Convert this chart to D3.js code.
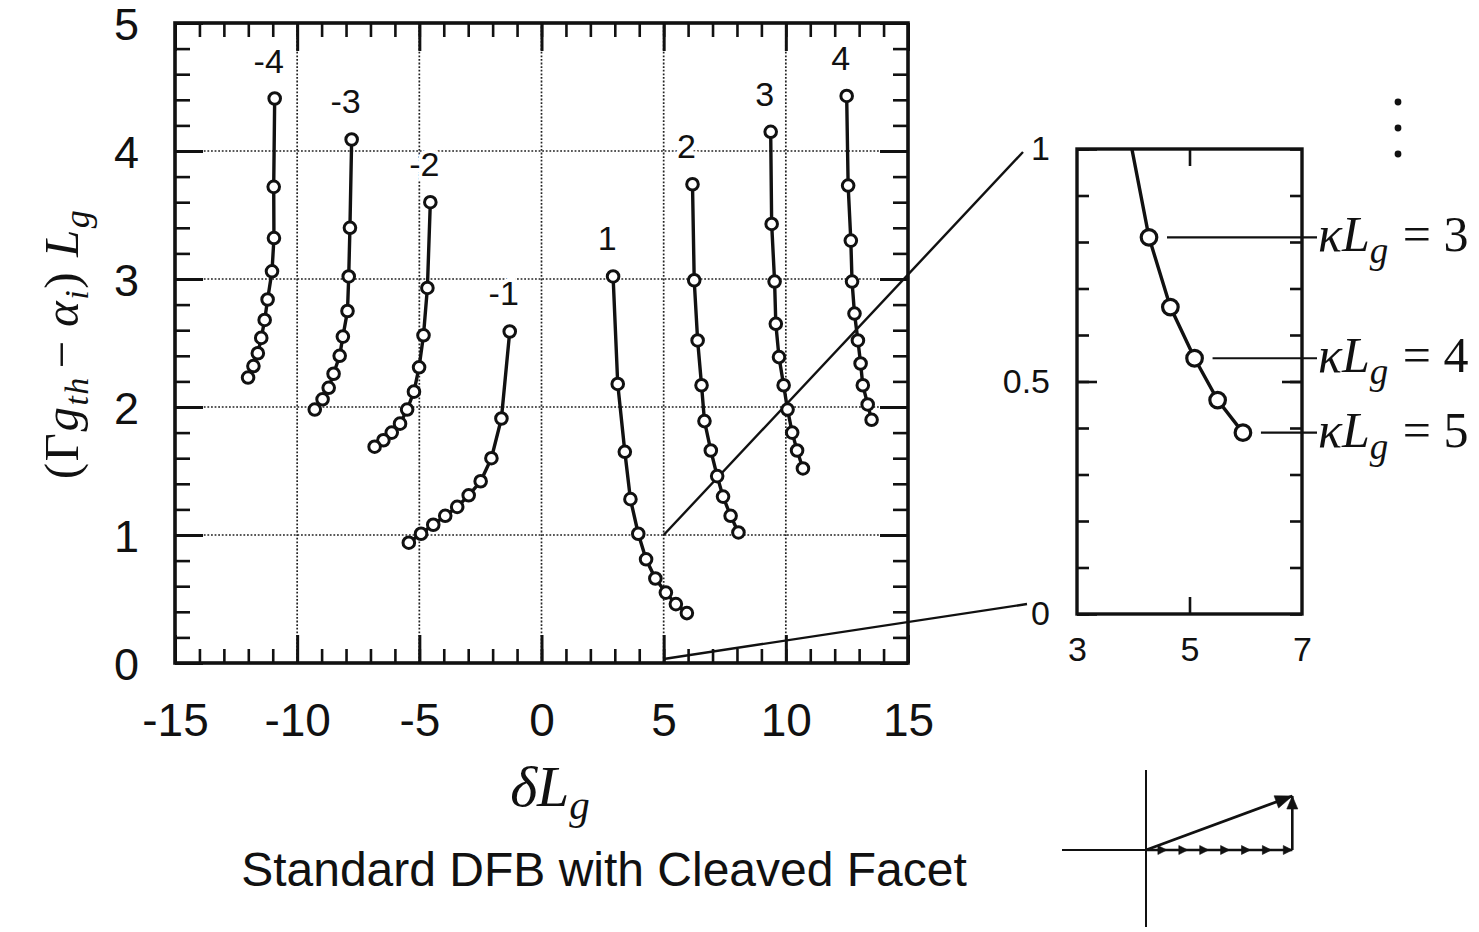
<!DOCTYPE html>
<html><head><meta charset="utf-8">
<script src="https://cdn.jsdelivr.net/npm/d3@7"></script>
<style>
  body { margin: 0; background: #fff; }
  svg { display: block; }
  .tick text { font-family: "Liberation Sans", Arial, sans-serif; fill: #111; }
</style></head>
<body>
<svg id="fig" width="1479" height="932"></svg>
<script>
// Coupling strength sweep, same for every longitudinal mode
const kappaL = [0.5, 1, 1.5, 2, 2.5, 3, 3.5, 4, 4.5, 5];
const modes = [-4, -3, -2, -1, 1, 2, 3, 4];

// Normalised detuning δLg for each mode, ordered by κLg
const dLm4 = [-10.92, -10.96, -10.95, -11.03, -11.21, -11.33, -11.47, -11.61, -11.79, -12.01];
const dLm3 = [-7.77, -7.84, -7.89, -7.94, -8.13, -8.26, -8.51, -8.71, -8.96, -9.28];
const dLm2 = [-4.55, -4.67, -4.83, -5.01, -5.22, -5.50, -5.79, -6.13, -6.47, -6.83];
const dLm1 = [-1.30, -1.64, -2.05, -2.49, -2.98, -3.45, -3.94, -4.43, -4.93, -5.43];
const dLp1 = [2.93, 3.12, 3.41, 3.64, 3.96, 4.28, 4.66, 5.09, 5.50, 5.95];
const dLp2 = [6.18, 6.25, 6.39, 6.55, 6.67, 6.93, 7.19, 7.43, 7.74, 8.06];
const dLp3 = [9.38, 9.42, 9.54, 9.59, 9.72, 9.91, 10.07, 10.26, 10.46, 10.70];
const dLp4 = [12.49, 12.55, 12.66, 12.71, 12.81, 12.95, 13.06, 13.15, 13.35, 13.51];

// Threshold gain (Γg_th − α_i)Lg for each mode, ordered by κLg
const gLm4 = [4.41, 3.72, 3.32, 3.06, 2.84, 2.68, 2.54, 2.42, 2.32, 2.23];
const gLm3 = [4.09, 3.40, 3.02, 2.75, 2.55, 2.40, 2.26, 2.15, 2.06, 1.98];
const gLm2 = [3.60, 2.93, 2.56, 2.31, 2.12, 1.98, 1.87, 1.80, 1.74, 1.69];
const gLm1 = [2.59, 1.91, 1.60, 1.42, 1.31, 1.22, 1.15, 1.08, 1.01, 0.94];
const gLp1 = [3.02, 2.18, 1.65, 1.28, 1.01, 0.81, 0.66, 0.55, 0.46, 0.39];
const gLp2 = [3.74, 2.99, 2.52, 2.17, 1.89, 1.66, 1.46, 1.30, 1.15, 1.02];
const gLp3 = [4.15, 3.43, 2.98, 2.65, 2.39, 2.17, 1.98, 1.80, 1.66, 1.52];
const gLp4 = [4.43, 3.73, 3.30, 2.98, 2.73, 2.52, 2.34, 2.17, 2.02, 1.90];

// Axis ticks
const xMajor = [-15, -10, -5, 0, 5, 10, 15];
const yMajor = [0, 1, 2, 3, 4, 5];
const xGrid = [-10, -5, 0, 5, 10];
const yGrid = [1, 2, 3, 4];
const insetX = [3, 5, 7];
const insetY = [0, 0.5, 1];
const insetLabelled = [3, 4, 5];   // κLg values called out in the close-up
const title = "Standard DFB with Cleaved Facet";

const detuning = [dLm4, dLm3, dLm2, dLm1, dLp1, dLp2, dLp3, dLp4];
const gain = [gLm4, gLm3, gLm2, gLm1, gLp1, gLp2, gLp3, gLp4];
const series = modes.map((m, i) => ({
  mode: m,
  pts: kappaL.map((k, j) => ({ k, x: detuning[i][j], y: gain[i][j] }))
}));

const svg = d3.select("#fig");
const INK = "#111";
const M = { l: 175, r: 908, t: 23, b: 663 };
const x = d3.scaleLinear().domain([-15, 15]).range([M.l, M.r]);
const y = d3.scaleLinear().domain([0, 5]).range([M.b, M.t]);

// ---------- main panel ----------
const grid = svg.append("g").attr("stroke", "#222").attr("stroke-width", 1.7).attr("stroke-dasharray", "1.8,1.8");
grid.selectAll("line.v").data(xGrid).join("line").attr("class", "v")
  .attr("x1", d => x(d)).attr("x2", d => x(d)).attr("y1", M.t).attr("y2", M.b);
grid.selectAll("line.h").data(yGrid).join("line").attr("class", "h")
  .attr("x1", M.l).attr("x2", M.r).attr("y1", d => y(d)).attr("y2", d => y(d));

function styleAxis(g, w) {
  g.select(".domain").remove();
  g.selectAll(".tick line").attr("stroke", INK).attr("stroke-width", w);
}
const minorX = d3.range(-15, 15.01, 1);
const minorY = d3.range(0, 5.01, 0.2);
const fmt = d => String(d);

svg.append("g").attr("transform", `translate(0,${M.b})`)
  .call(d3.axisBottom(x).tickValues(minorX).tickSize(-14).tickFormat(""))
  .call(g => styleAxis(g, 2.6));
svg.append("g").attr("transform", `translate(0,${M.b})`)
  .call(d3.axisBottom(x).tickValues(xMajor).tickSize(-28).tickPadding(40).tickFormat(fmt))
  .call(g => styleAxis(g, 3))
  .call(g => g.selectAll("text").attr("font-size", 46));
svg.append("g").attr("transform", `translate(0,${M.t})`)
  .call(d3.axisTop(x).tickValues(minorX).tickSize(-14).tickFormat(""))
  .call(g => styleAxis(g, 2.6));
svg.append("g").attr("transform", `translate(0,${M.t})`)
  .call(d3.axisTop(x).tickValues(xMajor).tickSize(-28).tickFormat(""))
  .call(g => styleAxis(g, 3));
svg.append("g").attr("transform", `translate(${M.l},0)`)
  .call(d3.axisLeft(y).tickValues(minorY).tickSize(-15).tickFormat(""))
  .call(g => styleAxis(g, 2.6));
svg.append("g").attr("transform", `translate(${M.l},0)`)
  .call(d3.axisLeft(y).tickValues(yMajor).tickSize(-28).tickPadding(36).tickFormat(fmt))
  .call(g => styleAxis(g, 3))
  .call(g => g.selectAll("text").attr("font-size", 45).attr("dy", "0.36em"));
svg.append("g").attr("transform", `translate(${M.r},0)`)
  .call(d3.axisRight(y).tickValues(minorY).tickSize(-15).tickFormat(""))
  .call(g => styleAxis(g, 2.6));
svg.append("g").attr("transform", `translate(${M.r},0)`)
  .call(d3.axisRight(y).tickValues(yMajor).tickSize(-28).tickFormat(""))
  .call(g => styleAxis(g, 3));

svg.append("rect").attr("x", M.l).attr("y", M.t).attr("width", M.r - M.l).attr("height", M.b - M.t)
  .attr("fill", "none").attr("stroke", INK).attr("stroke-width", 3.6);

// zoom connectors from the main panel to the close-up
const I = { l: 1077, r: 1302, t: 149, b: 614 };
const xi = d3.scaleLinear().domain([3, 7]).range([I.l, I.r]);
const yi = d3.scaleLinear().domain([0, 1]).range([I.b, I.t]);
const conn = [
  [[x(5), y(1)], [I.l - 54, yi(1) + 3]],
  [[x(5), y(0) - 4], [I.l - 50, yi(0) - 10]]
];
svg.append("g").selectAll("line").data(conn).join("line")
  .attr("x1", d => d[0][0]).attr("y1", d => d[0][1])
  .attr("x2", d => d[1][0]).attr("y2", d => d[1][1])
  .attr("stroke", INK).attr("stroke-width", 2.4);

const line = d3.line().x(d => x(d.x)).y(d => y(d.y));
const sg = svg.append("g").selectAll("g").data(series).join("g");
sg.append("path").attr("d", d => line(d.pts)).attr("fill", "none")
  .attr("stroke", INK).attr("stroke-width", 3.4);
sg.selectAll("circle").data(d => d.pts).join("circle")
  .attr("cx", d => x(d.x)).attr("cy", d => y(d.y)).attr("r", 5.8)
  .attr("fill", "#fff").attr("stroke", INK).attr("stroke-width", 3);

// mode numbers above each branch
svg.append("g").selectAll("text").data(series).join("text")
  .attr("x", d => x(d.pts[0].x) - 6).attr("y", d => y(d.pts[0].y) - 26)
  .attr("text-anchor", "middle")
  .attr("font-family", "Liberation Sans, Arial, sans-serif").attr("font-size", 34)
  .attr("fill", INK).attr("stroke", "#fff").attr("stroke-width", 8)
  .style("paint-order", "stroke")
  .text(d => String(d.mode));

// axis titles
const serif = "Liberation Serif, Times New Roman, serif";
const yt = svg.append("text").attr("transform", "translate(78,344) rotate(-90)")
  .attr("text-anchor", "middle").attr("font-family", serif).attr("font-size", 49)
  .attr("letter-spacing", 1.5).attr("fill", INK);
yt.append("tspan").text("(Γ");
yt.append("tspan").attr("font-style", "italic").text("g");
yt.append("tspan").attr("font-style", "italic").attr("font-size", 34).attr("dy", 10).text("th");
yt.append("tspan").attr("dy", -10).attr("dx", 8).text("−");
yt.append("tspan").attr("dx", 12).attr("font-style", "italic").text("α");
yt.append("tspan").attr("font-style", "italic").attr("font-size", 34).attr("dy", 10).text("i");
yt.append("tspan").attr("dy", -10).text(")");
yt.append("tspan").attr("dx", 14).attr("font-style", "italic").text("L");
yt.append("tspan").attr("font-style", "italic").attr("font-size", 36).attr("dy", 11).text("g");

const xt = svg.append("text").attr("x", 550).attr("y", 806).attr("text-anchor", "middle")
  .attr("font-family", serif).attr("font-size", 58).attr("font-style", "italic").attr("fill", INK);
xt.append("tspan").text("δL");
xt.append("tspan").attr("font-size", 41).attr("dy", 13).text("g");

svg.append("text").attr("x", 604).attr("y", 886).attr("text-anchor", "middle")
  .attr("font-family", "Liberation Sans, Arial, sans-serif").attr("font-size", 48).attr("fill", INK)
  .text(title);

// ---------- close-up of mode 1 ----------
svg.append("clipPath").attr("id", "insetClip").append("rect")
  .attr("x", I.l).attr("y", I.t).attr("width", I.r - I.l).attr("height", I.b - I.t);

const minorI = d3.range(0, 1.001, 0.1);
svg.append("g").attr("transform", `translate(${I.l},0)`)
  .call(d3.axisLeft(yi).tickValues(minorI).tickSize(-12).tickFormat(""))
  .call(g => styleAxis(g, 2.6));
svg.append("g").attr("transform", `translate(${I.l},0)`)
  .call(d3.axisLeft(yi).tickValues(insetY).tickSize(-20).tickPadding(27).tickFormat(fmt))
  .call(g => styleAxis(g, 2.6))
  .call(g => g.selectAll("text").attr("font-size", 34));
svg.append("g").attr("transform", `translate(${I.r},0)`)
  .call(d3.axisRight(yi).tickValues(minorI).tickSize(-12).tickFormat(""))
  .call(g => styleAxis(g, 2.6));
svg.append("g").attr("transform", `translate(${I.r},0)`)
  .call(d3.axisRight(yi).tickValues([0.5]).tickSize(-20).tickFormat(""))
  .call(g => styleAxis(g, 2.6));
svg.append("g").attr("transform", `translate(0,${I.b})`)
  .call(d3.axisBottom(xi).tickValues([5]).tickSize(-17).tickFormat(""))
  .call(g => styleAxis(g, 2.6));
svg.append("g").attr("transform", `translate(0,${I.b})`)
  .call(d3.axisBottom(xi).tickValues(insetX).tickSize(0).tickPadding(23).tickFormat(fmt))
  .call(g => styleAxis(g, 0))
  .call(g => g.selectAll("text").attr("font-size", 34));
svg.append("g").attr("transform", `translate(0,${I.t})`)
  .call(d3.axisTop(xi).tickValues([5]).tickSize(-17).tickFormat(""))
  .call(g => styleAxis(g, 2.6));

const mode1 = series.find(s => s.mode === 1).pts;
const lineI = d3.line().x(d => xi(d.x)).y(d => yi(d.y));
const ig = svg.append("g").attr("clip-path", "url(#insetClip)");
ig.append("path").attr("d", lineI(mode1)).attr("fill", "none").attr("stroke", INK).attr("stroke-width", 3.4);
ig.selectAll("circle").data(mode1.filter(d => d.y <= 1)).join("circle")
  .attr("cx", d => xi(d.x)).attr("cy", d => yi(d.y)).attr("r", 7.8)
  .attr("fill", "#fff").attr("stroke", INK).attr("stroke-width", 3.2);

svg.append("rect").attr("x", I.l).attr("y", I.t).attr("width", I.r - I.l).attr("height", I.b - I.t)
  .attr("fill", "none").attr("stroke", INK).attr("stroke-width", 3.4);

// κLg call-outs
const callouts = mode1.filter(d => insetLabelled.includes(d.k));
const cg = svg.append("g").selectAll("g").data(callouts).join("g");
cg.append("line").attr("x1", d => xi(d.x) + 18).attr("x2", 1317)
  .attr("y1", d => yi(d.y)).attr("y2", d => yi(d.y))
  .attr("stroke", INK).attr("stroke-width", 2.2);
const ct = cg.append("text").attr("x", 1318).attr("y", d => yi(d.y) + 14)
  .attr("font-family", serif).attr("font-size", 50).attr("fill", INK);
ct.append("tspan").attr("font-style", "italic").text("κL");
ct.append("tspan").attr("font-style", "italic").attr("font-size", 37).attr("dy", 12).text("g");
ct.append("tspan").attr("dy", -12).attr("dx", 2).text(d => " = " + d.k);

// continuation dots above the call-outs
svg.append("g").selectAll("circle").data([0, 1, 2]).join("circle")
  .attr("cx", 1398).attr("cy", d => 102 + d * 26).attr("r", 3.4).attr("fill", INK);

// ---------- phasor sketch ----------
const P = { x: 1146, y: 850 };
const nSteps = 7, step = 20.9, rise = 54;
const ph = svg.append("g").attr("stroke", INK).attr("fill", INK);
ph.append("line").attr("x1", 1062).attr("x2", P.x).attr("y1", P.y).attr("y2", P.y).attr("stroke-width", 2);
ph.append("line").attr("x1", P.x).attr("x2", P.x).attr("y1", 770).attr("y2", 927).attr("stroke-width", 2);
function arrowHead(x1, y1, x2, y2, len, wid) {
  const a = Math.atan2(y2 - y1, x2 - x1), c = Math.cos(a), s = Math.sin(a);
  const bx = x2 - len * c, by = y2 - len * s;
  return `M${x2},${y2}L${bx - wid * s},${by + wid * c}L${bx + wid * s},${by - wid * c}Z`;
}
const ends = d3.range(1, nSteps + 1).map(i => P.x + i * step);
ph.append("line").attr("x1", P.x).attr("x2", ends[ends.length - 1]).attr("y1", P.y).attr("y2", P.y).attr("stroke-width", 2.6);
ph.selectAll("path.h").data(ends).join("path").attr("class", "h")
  .attr("d", e => arrowHead(e - step, P.y, e, P.y, 9, 4.5)).attr("stroke-width", 0.6);
const ex = ends[ends.length - 1];
ph.append("line").attr("x1", ex).attr("x2", ex).attr("y1", P.y).attr("y2", P.y - rise).attr("stroke-width", 2.6);
ph.append("path").attr("d", arrowHead(ex, P.y, ex, P.y - rise, 13, 5.5)).attr("stroke-width", 0.6);
ph.append("line").attr("x1", P.x).attr("y1", P.y).attr("x2", ex).attr("y2", P.y - rise).attr("stroke-width", 2.8);
ph.append("path").attr("d", arrowHead(P.x, P.y, ex, P.y - rise, 17, 6.5)).attr("stroke-width", 0.6);
</script>
</body></html>
